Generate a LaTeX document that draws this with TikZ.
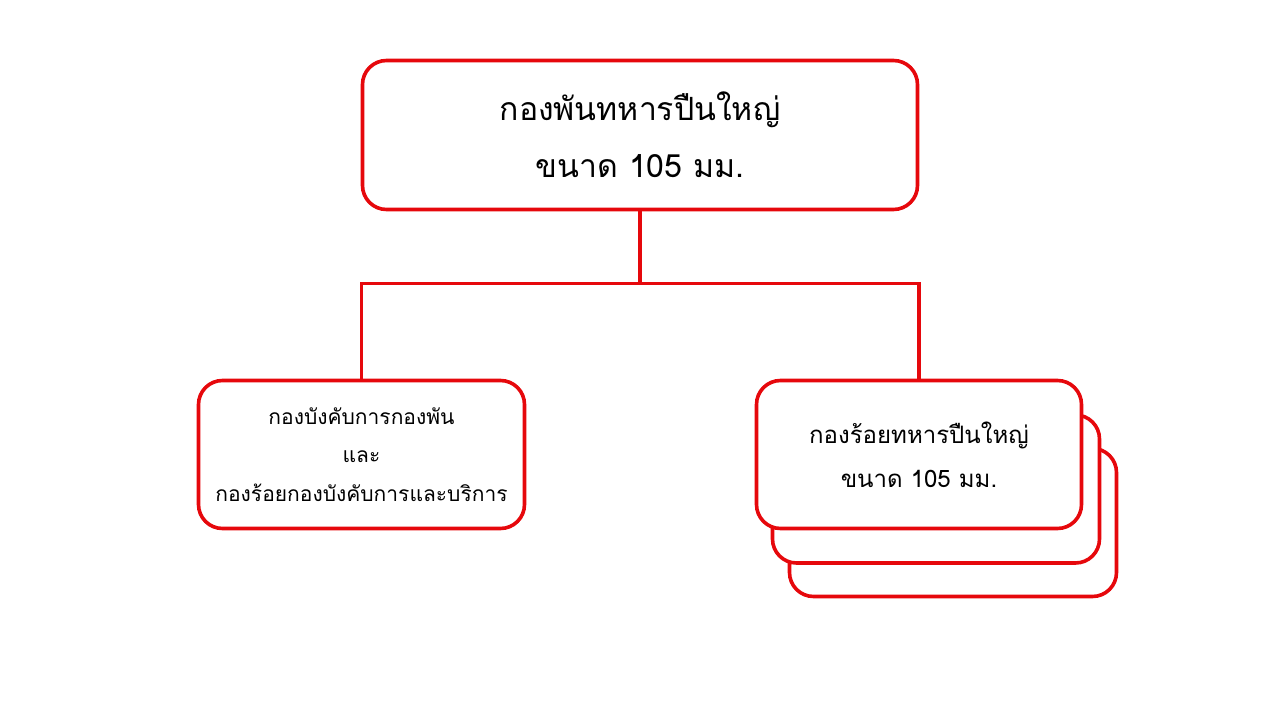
\documentclass[tikz,border=0pt]{standalone}
\usepackage{fontspec}
\newfontfamily\thaifont[Script=Thai]{Loma}
\usepackage{tikz}
\usetikzlibrary{positioning,calc}
\definecolor{armyred}{RGB}{230,8,12}
\tikzset{
  unitbox/.style={draw=armyred,line width=3.6pt,rounded corners=24pt,fill=white,
    align=center,inner sep=0pt,text=black},
  orgline/.style={draw=armyred,line width=3.6pt}
}
\begin{document}
\begin{tikzpicture}[x=1pt,y=-1pt]
    \useasboundingbox (0,0) rectangle (1280,720);

    % battalion
    \node [unitbox,minimum width=555,minimum height=149,
      font=\thaifont\fontsize{32}{57}\selectfont] (bn) at (640,135)
      {กองพันทหารปืนใหญ่\\ขนาด 105 มม.};

    % headquarters and service battery
    \node [unitbox,minimum width=326,minimum height=148,
      font=\thaifont\fontsize{21}{38.5}\selectfont] (hq) at (361.5,454.5)
      {กองบังคับการกองพัน\\และ\\กองร้อยกองบังคับการและบริการ};

    % firing batteries (stacked)
    \node [unitbox,minimum width=327,minimum height=148] (co3) at (953,522.5) {};
    \node [unitbox,minimum width=327,minimum height=148] (co2) at (936,489) {};
    \node [unitbox,minimum width=325,minimum height=148,
      font=\thaifont\fontsize{24}{44}\selectfont] (co1) at (919,454.5)
      {กองร้อยทหารปืนใหญ่\\ขนาด 105 มม.};

    \coordinate (j) at ($(bn.south)+(0,72)$);
    \draw [orgline] (bn.south) -- (j);
    \draw [orgline] (hq.north) |- (j) -| (co1.north);
\end{tikzpicture}
\end{document}
